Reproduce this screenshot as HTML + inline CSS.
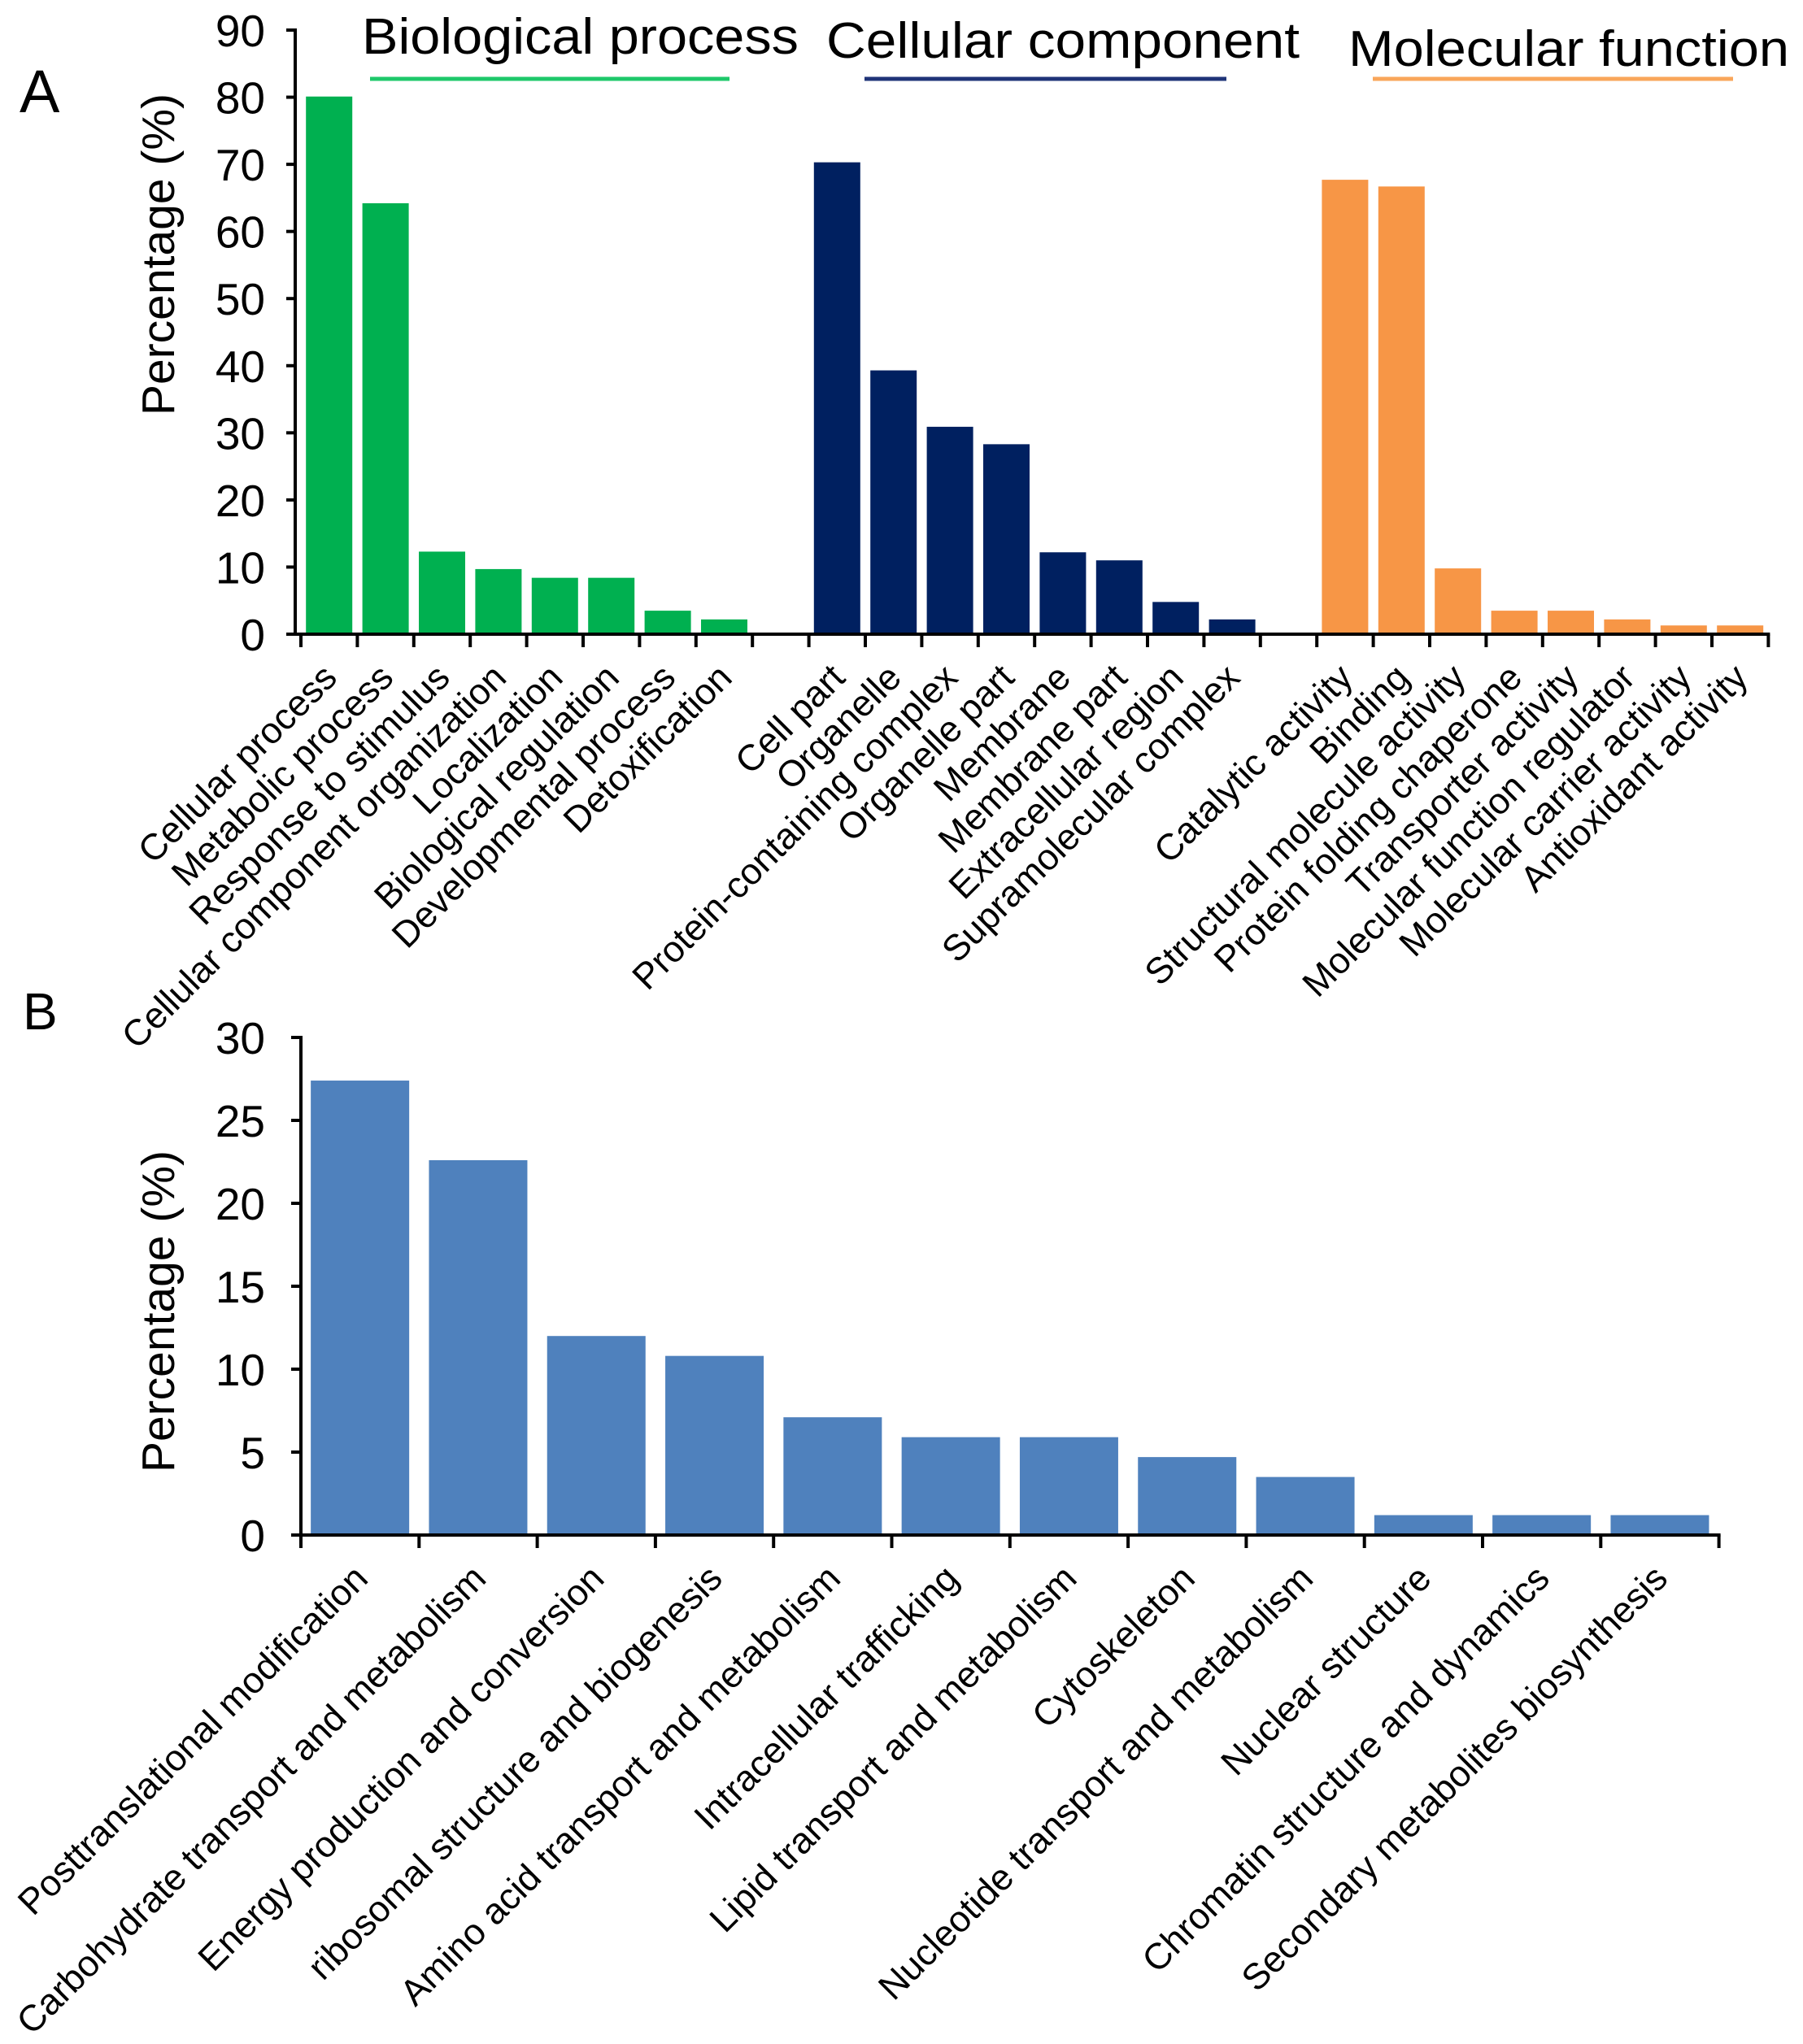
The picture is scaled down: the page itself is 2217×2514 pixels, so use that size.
<!DOCTYPE html>
<html><head><meta charset="utf-8"><style>
html,body{margin:0;padding:0;background:#fff}
svg{display:block}
text{font-family:"Liberation Sans",Arial,sans-serif;fill:#000}
</style></head><body>
<svg id="chart" width="2217" height="2514" viewBox="0 0 2217 2514" xmlns="http://www.w3.org/2000/svg">
<g id="gA"></g>
<g id="gB"></g>
</svg>
<script>
const bpCats=["Cellular process","Metabolic process","Response to stimulus","Cellular component organization","Localization","Biological regulation","Developmental process","Detoxification"];
const bpVals=[80.1,64.2,12.3,9.7,8.4,8.4,3.5,2.2];
const ccCats=["Cell part","Organelle","Protein-containing complex","Organelle part","Membrane","Membrane part","Extracellular region","Supramolecular complex"];
const ccVals=[70.3,39.3,30.9,28.3,12.2,11.0,4.8,2.2];
const mfCats=["Catalytic activity","Binding","Structural molecule activity","Protein folding chaperone","Transporter activity","Molecular function regulator","Molecular carrier activity","Antioxidant activity"];
const mfVals=[67.7,66.7,9.8,3.5,3.5,2.2,1.3,1.3];
const aTicks=[0,10,20,30,40,50,60,70,80,90];
const cogCats=["Posttranslational modification","Carbohydrate transport and metabolism","Energy production and conversion","ribosomal structure and biogenesis","Amino acid transport and metabolism","Intracellular trafficking","Lipid transport and metabolism","Cytoskeleton","Nucleotide transport and metabolism","Nuclear structure","Chromatin structure and dynamics","Secondary metabolites biosynthesis"];
const cogVals=[27.4,22.6,12.0,10.8,7.1,5.9,5.9,4.7,3.5,1.2,1.2,1.2];
const bTicks=[0,5,10,15,20,25,30];

const NS="http://www.w3.org/2000/svg";
function mk(parent,tag,attrs,txt){const e=document.createElementNS(NS,tag);for(const k in attrs)e.setAttribute(k,attrs[k]);if(txt!==undefined)e.textContent=txt;parent.appendChild(e);return e;}
const LF=45, TF=55, YF=57;

// Panel A
const gA=document.getElementById('gA');
const aX0=370, aW=69.4, aY0=780, aY90=37;
const ay=v=>aY0-(v/90)*(aY0-aY90);
const groups=[{cats:bpCats,vals:bpVals,color:"#00b050",line:"#1ec86a",title:"Biological process",slot:0,tx:445,tl:537,ty:66,lx1:455,lx2:897,name:"biological-process"},
{cats:ccCats,vals:ccVals,color:"#002060",line:"#1f3478",title:"Cellular component",slot:9,tx:1016,tl:582,ty:71,lx1:1063,lx2:1508,name:"cellular-component"},
{cats:mfCats,vals:mfVals,color:"#f79646",line:"#f9a65a",title:"Molecular function",slot:18,tx:1658,tl:542,ty:81,lx1:1688,lx2:2131,name:"molecular-function"}];
const ax=i=>aX0+aW*i;
groups.forEach(g=>{
  const t=mk(gA,'text',{x:g.tx,y:g.ty,'font-size':62,textLength:g.tl,lengthAdjust:'spacingAndGlyphs'},g.title);
  
  
  const l=mk(gA,'line',{x1:g.lx1,x2:g.lx2,y1:97,y2:97,stroke:g.line,'stroke-width':5});
  
  
  g.vals.forEach((v,i)=>{
    const s=g.slot+i, cx=ax(s)+aW/2, bw=57;
    const r=mk(gA,'rect',{x:cx-bw/2,y:ay(v),width:bw,height:aY0-ay(v),fill:g.color});
    
    
    const lx=cx+12, ly=aY0+56;
    const tl=mk(gA,'text',{x:lx,y:ly,'font-size':LF,'text-anchor':'end',transform:`rotate(-45 ${lx} ${ly})`},g.cats[i]);
    
    
  });
});
for(let s=0;s<=26;s++){
  const tk=mk(gA,'line',{x1:ax(s),x2:ax(s),y1:aY0,y2:aY0+16,stroke:'#000','stroke-width':4});
  
  
}
const axA=mk(gA,'line',{x1:363,x2:ax(26)+2,y1:aY0,y2:aY0,stroke:'#000','stroke-width':4});


const ayA=mk(gA,'line',{x1:363,x2:363,y1:aY90-2,y2:aY0+2,stroke:'#000','stroke-width':4});


aTicks.forEach(v=>{
  const tk=mk(gA,'line',{x1:352,x2:363,y1:ay(v),y2:ay(v),stroke:'#000','stroke-width':4});
  
  
  const tl=mk(gA,'text',{x:326,y:ay(v)+20,'font-size':TF,'text-anchor':'end'},String(v));
  
  
});
const yTA=mk(gA,'text',{x:214,y:313,'font-size':YF,'text-anchor':'middle',transform:'rotate(-90 214 313)'},'Percentage (%)');


const lA=mk(gA,'text',{x:24,y:138,'font-size':74},'A');



// Panel B
const gB=document.getElementById('gB');
const bX0=370, bW=145.3, bY0=1888, bY30=1276;
const by=v=>bY0-(v/30)*(bY0-bY30);
const bx=i=>bX0+bW*i;
cogVals.forEach((v,i)=>{
  const cx=bx(i)+bW/2, bw=121;
  const r=mk(gB,'rect',{x:cx-bw/2,y:by(v),width:bw,height:bY0-by(v),fill:'#4f81bd'});
  
  
  const lx=cx+12, ly=bY0+56;
  const tl=mk(gB,'text',{x:lx,y:ly,'font-size':LF,'text-anchor':'end',transform:`rotate(-45 ${lx} ${ly})`},cogCats[i]);
  
  
});
for(let s=0;s<=cogVals.length;s++){
  const tk=mk(gB,'line',{x1:bx(s),x2:bx(s),y1:bY0,y2:bY0+16,stroke:'#000','stroke-width':4});
  
  
}
const axB=mk(gB,'line',{x1:370,x2:bx(cogVals.length)+2,y1:bY0,y2:bY0,stroke:'#000','stroke-width':4});


const ayB=mk(gB,'line',{x1:370,x2:370,y1:bY30-2,y2:bY0+2,stroke:'#000','stroke-width':4});


bTicks.forEach(v=>{
  const tk=mk(gB,'line',{x1:358,x2:370,y1:by(v),y2:by(v),stroke:'#000','stroke-width':4});
  
  
  const tl=mk(gB,'text',{x:326,y:by(v)+20,'font-size':TF,'text-anchor':'end'},String(v));
  
  
});
const yTB=mk(gB,'text',{x:214,y:1613,'font-size':YF,'text-anchor':'middle',transform:'rotate(-90 214 1613)'},'Percentage (%)');


const lB=mk(gB,'text',{x:28,y:1266,'font-size':64},'B');


</script>
</body></html>
